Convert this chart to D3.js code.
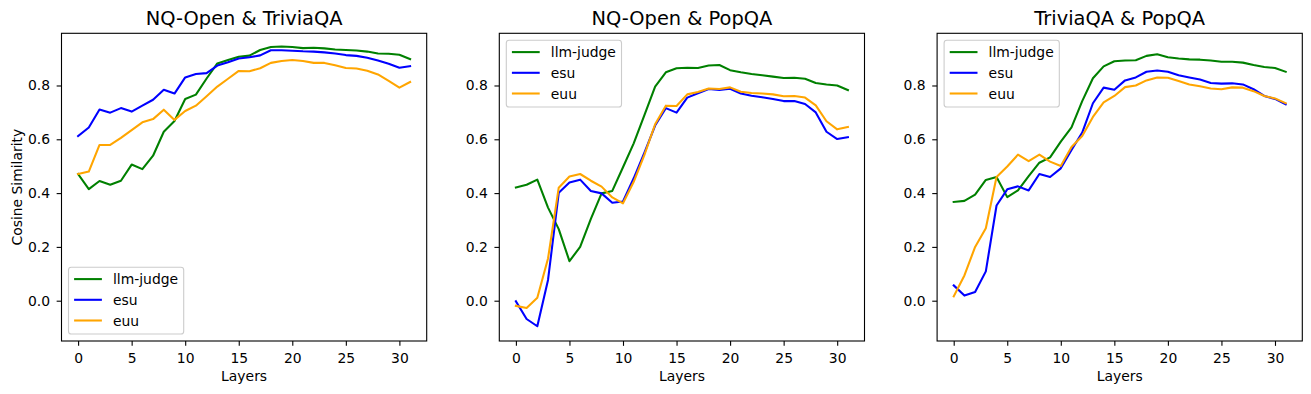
<!DOCTYPE html>
<html>
<head>
<meta charset="utf-8">
<script src="https://cdn.jsdelivr.net/npm/d3@7"></script>
<style>
  body { margin: 0; background: #fff; }
  text { font-family: 'DejaVu Sans', sans-serif; fill: #000; }
</style>
</head>
<body>
<div class="chart"></div>
<script>
// layer index on x
const layers = [0, 1, 2, 3, 4, 5, 6, 7, 8, 9, 10, 11, 12, 13, 14, 15,
  16, 17, 18, 19, 20, 21, 22, 23, 24, 25, 26, 27, 28, 29, 30, 31]

const titles = ['NQ-Open & TriviaQA', 'NQ-Open & PopQA', 'TriviaQA & PopQA']
const seriesNames = ['llm-judge', 'esu', 'euu']
const seriesColors = ['green', 'blue', 'orange']
const xTicks = [0, 5, 10, 15, 20, 25, 30]
const yTicks = [0.0, 0.2, 0.4, 0.6, 0.8]

// NQ-Open & TriviaQA
const nqTqJudge = [0.471, 0.415, 0.445, 0.431, 0.446, 0.506, 0.489, 0.539, 0.628, 0.668, 0.750, 0.766, 0.826, 0.882, 0.895, 0.907,
  0.911, 0.932, 0.943, 0.945, 0.943, 0.939, 0.940, 0.938, 0.934, 0.932, 0.930, 0.926, 0.919, 0.918, 0.914, 0.898]
const nqTqEsu = [0.612, 0.644, 0.711, 0.699, 0.716, 0.703, 0.725, 0.747, 0.784, 0.770, 0.830, 0.843, 0.846, 0.874, 0.886, 0.900,
  0.905, 0.912, 0.931, 0.931, 0.929, 0.927, 0.926, 0.923, 0.919, 0.913, 0.910, 0.903, 0.893, 0.881, 0.866, 0.872]
const nqTqEuu = [0.471, 0.480, 0.579, 0.579, 0.605, 0.634, 0.663, 0.675, 0.710, 0.672, 0.705, 0.725, 0.760, 0.796, 0.825, 0.854,
  0.853, 0.864, 0.884, 0.891, 0.895, 0.891, 0.884, 0.884, 0.875, 0.865, 0.863, 0.855, 0.841, 0.817, 0.792, 0.813]

// NQ-Open & PopQA
const nqPopJudge = [0.421, 0.431, 0.450, 0.346, 0.266, 0.147, 0.200, 0.304, 0.399, 0.408, 0.496, 0.585, 0.690, 0.796, 0.849, 0.864,
  0.866, 0.865, 0.874, 0.876, 0.857, 0.849, 0.843, 0.838, 0.833, 0.828, 0.829, 0.825, 0.809, 0.804, 0.800, 0.783]
const nqPopEsu = [-0.002, -0.068, -0.095, 0.077, 0.401, 0.439, 0.450, 0.408, 0.399, 0.364, 0.369, 0.455, 0.550, 0.651, 0.716, 0.699,
  0.755, 0.771, 0.787, 0.783, 0.788, 0.770, 0.762, 0.756, 0.750, 0.742, 0.742, 0.731, 0.700, 0.628, 0.601, 0.608]
const nqPopEuu = [-0.019, -0.027, 0.011, 0.157, 0.420, 0.462, 0.471, 0.446, 0.424, 0.384, 0.362, 0.442, 0.542, 0.656, 0.725, 0.724,
  0.767, 0.776, 0.789, 0.787, 0.793, 0.777, 0.772, 0.770, 0.767, 0.760, 0.761, 0.755, 0.726, 0.667, 0.637, 0.646]

// TriviaQA & PopQA
const tqPopJudge = [0.367, 0.371, 0.394, 0.449, 0.460, 0.385, 0.410, 0.463, 0.513, 0.533, 0.591, 0.644, 0.742, 0.827, 0.871, 0.890,
  0.893, 0.894, 0.910, 0.916, 0.905, 0.900, 0.897, 0.896, 0.893, 0.888, 0.888, 0.885, 0.876, 0.869, 0.865, 0.851]
const tqPopEsu = [0.057, 0.019, 0.032, 0.109, 0.354, 0.414, 0.425, 0.410, 0.471, 0.460, 0.492, 0.560, 0.625, 0.734, 0.792, 0.784,
  0.819, 0.830, 0.851, 0.856, 0.851, 0.838, 0.830, 0.822, 0.809, 0.807, 0.808, 0.804, 0.786, 0.761, 0.750, 0.730]
const tqPopEuu = [0.016, 0.094, 0.200, 0.269, 0.460, 0.499, 0.543, 0.519, 0.543, 0.517, 0.501, 0.571, 0.612, 0.683, 0.737, 0.761,
  0.794, 0.800, 0.819, 0.830, 0.829, 0.817, 0.804, 0.797, 0.789, 0.786, 0.793, 0.792, 0.779, 0.761, 0.752, 0.734]

const panels = [
  { title: titles[0], series: [nqTqJudge, nqTqEsu, nqTqEuu], legend: 'lower' },
  { title: titles[1], series: [nqPopJudge, nqPopEsu, nqPopEuu], legend: 'upper' },
  { title: titles[2], series: [tqPopJudge, tqPopEsu, tqPopEuu], legend: 'upper' },
]

const width = 1311
const height = 394
const fontSize = 13.9
const panelLefts = [61.5, 499.3, 937.1]
const panelW = 365.2
const plotTop = 33.3
const panelH = 307.7

const svg = d3
  .select('.chart')
  .append('svg')
  .attr('width', width)
  .attr('height', height)

// x padding of 5% like matplotlib, y shared across panels
let x = d3.scaleLinear().domain([-1.55, 32.55]).range([0, panelW])
let y = d3.scaleLinear().domain([-0.1498, 0.994]).range([panelH, 0])

let line = d3
  .line()
  .x((d, i) => x(layers[i]))
  .y((d) => y(d))

panels.forEach((p, pi) => {
  let g = svg.append('g').attr('transform', `translate(${panelLefts[pi]},${plotTop})`)

  // lines
  p.series.forEach((s, si) => {
    g.append('path')
      .datum(s)
      .attr('d', line)
      .attr('fill', 'none')
      .attr('stroke', seriesColors[si])
      .attr('stroke-width', 2.08)
      .attr('stroke-linejoin', 'round')
      .attr('stroke-linecap', 'square')
  })

  // axes
  let xa = g
    .append('g')
    .attr('transform', `translate(0,${panelH})`)
    .call(d3.axisBottom(x).tickValues(xTicks).tickSize(4.86).tickPadding(7).tickFormat(d3.format('d')))
  let ya = g
    .append('g')
    .call(d3.axisLeft(y).tickValues(yTicks).tickSize(4.86).tickPadding(6.6).tickFormat(d3.format('.1f')))
  ;[xa, ya].forEach((a) => {
    a.select('.domain').remove()
    a.selectAll('line').attr('stroke', '#000').attr('stroke-width', 1.1)
    a.selectAll('text').style('font-size', fontSize + 'px').attr('fill', '#000').style('font-family', "'DejaVu Sans', sans-serif")
  })

  // frame
  g.append('rect')
    .attr('width', panelW)
    .attr('height', panelH)
    .attr('fill', 'none')
    .attr('stroke', '#000')
    .attr('stroke-width', 1.1)

  // title
  g.append('text')
    .attr('x', panelW / 2)
    .attr('y', -8)
    .attr('text-anchor', 'middle')
    .style('font-size', '19.4px')
    .text(p.title)

  // x label
  g.append('text')
    .attr('x', panelW / 2)
    .attr('y', 381.5 - plotTop)
    .attr('text-anchor', 'middle')
    .style('font-size', fontSize + 'px')
    .text('Layers')

  // legend
  let rowH = 20.7
  let boxH = 66.7
  let lg = g.append('g')
  let lx = 7
  let ly = p.legend === 'lower' ? panelH - 7 - boxH : 7
  let box = lg.append('rect')
    .attr('x', lx)
    .attr('y', ly)
    .attr('rx', 2.8)
    .attr('height', boxH)
    .attr('fill', 'rgba(255,255,255,0.8)')
    .attr('stroke', '#cccccc')
    .attr('stroke-width', 1.1)
  let maxW = 0
  seriesNames.forEach((n, i) => {
    let cy = ly + 11.8 + i * rowH
    lg.append('line')
      .attr('x1', lx + 5.6)
      .attr('x2', lx + 5.6 + 27.8)
      .attr('y1', cy)
      .attr('y2', cy)
      .attr('stroke', seriesColors[i])
      .attr('stroke-width', 2.08)
    let t = lg.append('text')
      .attr('x', lx + 5.6 + 27.8 + 11.1)
      .attr('y', cy)
      .attr('dy', '0.36em')
      .style('font-size', fontSize + 'px')
      .text(n)
    maxW = Math.max(maxW, t.node().getComputedTextLength())
  })
  box.attr('width', 5.6 + 27.8 + 11.1 + maxW + 5.6)
})

// y label on first panel
svg
  .append('text')
  .attr('transform', `translate(22,${plotTop + panelH / 2}) rotate(-90)`)
  .attr('text-anchor', 'middle')
  .style('font-size', fontSize + 'px')
  .text('Cosine Similarity')
</script>
</body>
</html>
